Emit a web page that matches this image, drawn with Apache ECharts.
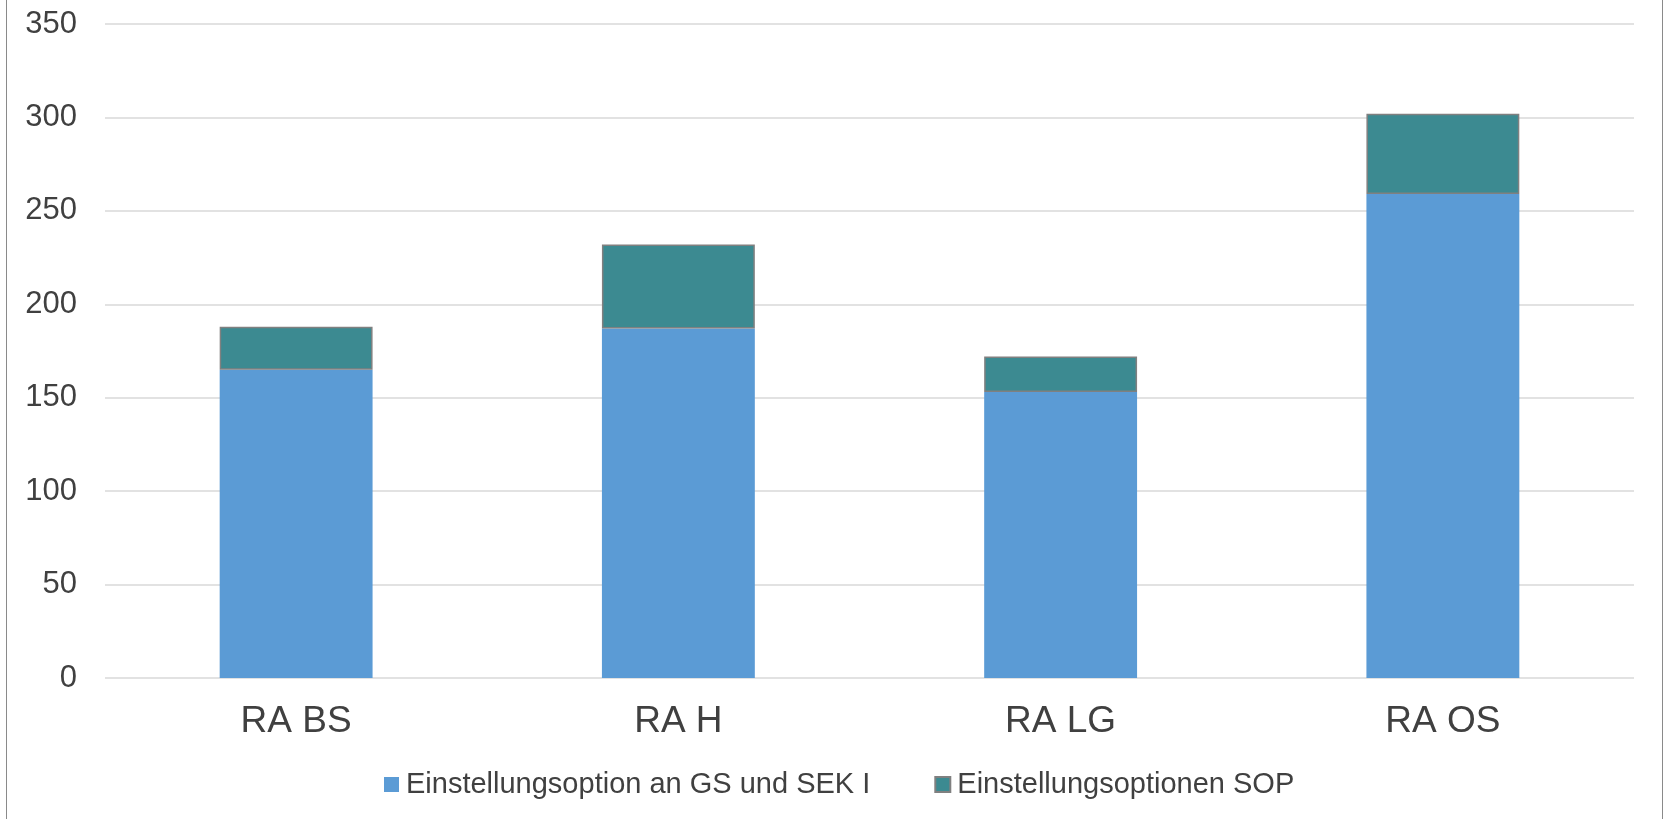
<!DOCTYPE html>
<html>
<head>
<meta charset="utf-8">
<script src="https://cdn.jsdelivr.net/npm/echarts@6/dist/echarts.min.js"></script>
<style>
html,body{margin:0;padding:0;background:#fff;overflow:hidden;}
#frame{position:absolute;left:6px;top:-4px;width:1657px;height:830px;border:1.5px solid #8a8a8a;box-sizing:border-box;}
#chart{position:absolute;left:0;top:0;width:1663px;height:819px;}
</style>
</head>
<body>
<div id="frame"></div>
<div id="chart"></div>
<script>
const categories = ['RA BS', 'RA H', 'RA LG', 'RA OS'];
const seriesNames = ['Einstellungsoption an GS und SEK I', 'Einstellungsoptionen SOP'];
const gsSek = [165, 187, 153, 259];
const sop = [23, 45, 19, 43];
const yTicks = { min: 0, max: 350, interval: 50 };

const chart = echarts.init(document.getElementById('chart'), null, { renderer: 'canvas' });
const font = 'Liberation Sans, Arial, sans-serif';
chart.setOption({
  animation: false,
  backgroundColor: 'transparent',
  textStyle: { fontFamily: font },
  grid: { left: 105, right: 29, top: 24, bottom: 141, containLabel: false },
  legend: {
    left: 384,
    top: 770,
    padding: 0,
    itemWidth: 15,
    itemHeight: 15,
    itemGap: 64,
    textStyle: { fontSize: 29, color: '#404040', fontFamily: font, padding: [0, 0, 0, 2] },
    data: [
      { name: seriesNames[0], icon: 'rect' },
      { name: seriesNames[1], icon: 'rect' }
    ]
  },
  xAxis: {
    type: 'category',
    data: categories,
    axisLine: { show: false },
    axisTick: { show: false },
    axisLabel: { fontSize: 37, color: '#404040', margin: 25, fontFamily: font }
  },
  yAxis: {
    type: 'value',
    min: yTicks.min,
    max: yTicks.max,
    interval: yTicks.interval,
    axisLine: { show: false },
    axisTick: { show: false },
    axisLabel: { fontSize: 31, color: '#404040', margin: 28, fontFamily: font, padding: [3, 0, 0, 0] },
    splitLine: { lineStyle: { color: '#d9d9d9', width: 1.5 } }
  },
  series: [
    {
      name: seriesNames[0],
      type: 'bar',
      stack: 'total',
      barWidth: '40%',
      data: gsSek,
      itemStyle: { color: '#5B9BD5' }
    },
    {
      name: seriesNames[1],
      type: 'bar',
      stack: 'total',
      barWidth: '40%',
      data: sop,
      itemStyle: { color: '#3C8A91', borderColor: '#808080', borderWidth: 1.5 }
    }
  ]
});
</script>
</body>
</html>
